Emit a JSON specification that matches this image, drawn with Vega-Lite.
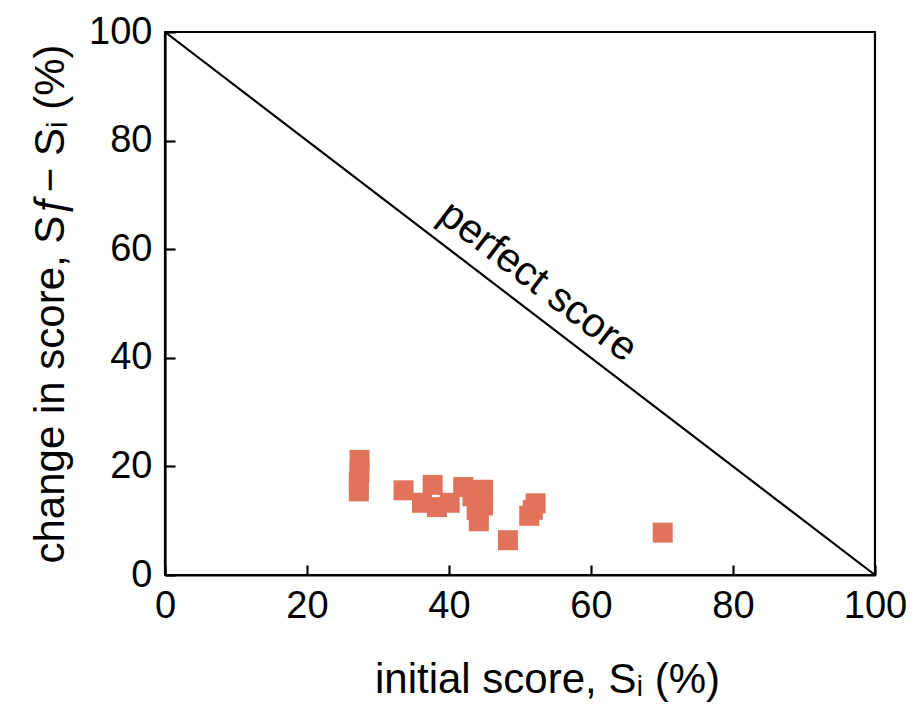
{
  "$schema": "https://vega.github.io/schema/vega-lite/v6.json",
  "width": 710,
  "height": 543,
  "padding": {"left": 165, "top": 32, "right": 43, "bottom": 134},
  "autosize": {"type": "none"},
  "background": "white",
  "config": {
    "font": "Liberation Sans",
    "view": {"stroke": "black", "strokeWidth": 2.2},
    "axis": {
      "domainColor": "black",
      "domainWidth": 2.2,
      "tickColor": "black",
      "tickWidth": 2.2,
      "tickSize": -10,
      "grid": false,
      "labelFont": "Liberation Sans",
      "labelFontSize": 38,
      "labelColor": "black",
      "titleFont": "Liberation Sans",
      "titleFontSize": 42,
      "titleFontWeight": "normal",
      "titleColor": "black"
    }
  },
  "layer": [
    {
      "data": {"values": [{"xi": 0, "yi": 100}, {"xi": 100, "yi": 0}]},
      "mark": {"type": "line", "color": "black", "strokeWidth": 2.2},
      "encoding": {
        "x": {"field": "xi", "type": "quantitative", "scale": {"domain": [0, 100], "nice": false},
              "axis": {"values": [0, 20, 40, 60, 80, 100], "title": "initial score, Sᵢ (%)", "labelPadding": 22, "titlePadding": 34, "titleX": 382, "labelFlush": false}},
        "y": {"field": "yi", "type": "quantitative", "scale": {"domain": [0, 100], "nice": false},
              "axis": {"values": [0, 20, 40, 60, 80, 100], "title": "change in score, Sƒ− Sᵢ (%)", "labelPadding": 23, "titlePadding": 16, "labelFlush": false}}
      }
    },
    {
      "data": {"values": [
        {"initial": 27.4, "change": 21.2},
        {"initial": 27.4, "change": 19.0},
        {"initial": 27.3, "change": 17.2},
        {"initial": 27.3, "change": 15.4},
        {"initial": 33.6, "change": 15.6},
        {"initial": 36.2, "change": 13.3},
        {"initial": 37.7, "change": 16.6},
        {"initial": 38.3, "change": 12.5},
        {"initial": 40.1, "change": 13.3},
        {"initial": 42.0, "change": 16.2},
        {"initial": 43.3, "change": 14.5},
        {"initial": 44.8, "change": 15.7},
        {"initial": 44.8, "change": 12.8},
        {"initial": 43.9, "change": 12.0},
        {"initial": 44.2, "change": 9.9},
        {"initial": 48.3, "change": 6.4},
        {"initial": 51.3, "change": 10.9},
        {"initial": 51.8, "change": 12.0},
        {"initial": 52.2, "change": 13.2},
        {"initial": 70.1, "change": 7.8}
      ]},
      "mark": {"type": "point", "shape": "square", "filled": true, "size": 400, "color": "#E07359", "opacity": 1},
      "encoding": {
        "x": {"field": "initial", "type": "quantitative"},
        "y": {"field": "change", "type": "quantitative"}
      }
    },
    {
      "data": {"values": [{"tx": 52.5, "ty": 54.0, "label": "perfect score"}]},
      "mark": {"type": "text", "angle": 37.4, "fontSize": 41, "font": "Liberation Sans", "align": "center", "baseline": "middle", "color": "black"},
      "encoding": {
        "x": {"field": "tx", "type": "quantitative"},
        "y": {"field": "ty", "type": "quantitative"},
        "text": {"field": "label"}
      }
    }
  ]
}
